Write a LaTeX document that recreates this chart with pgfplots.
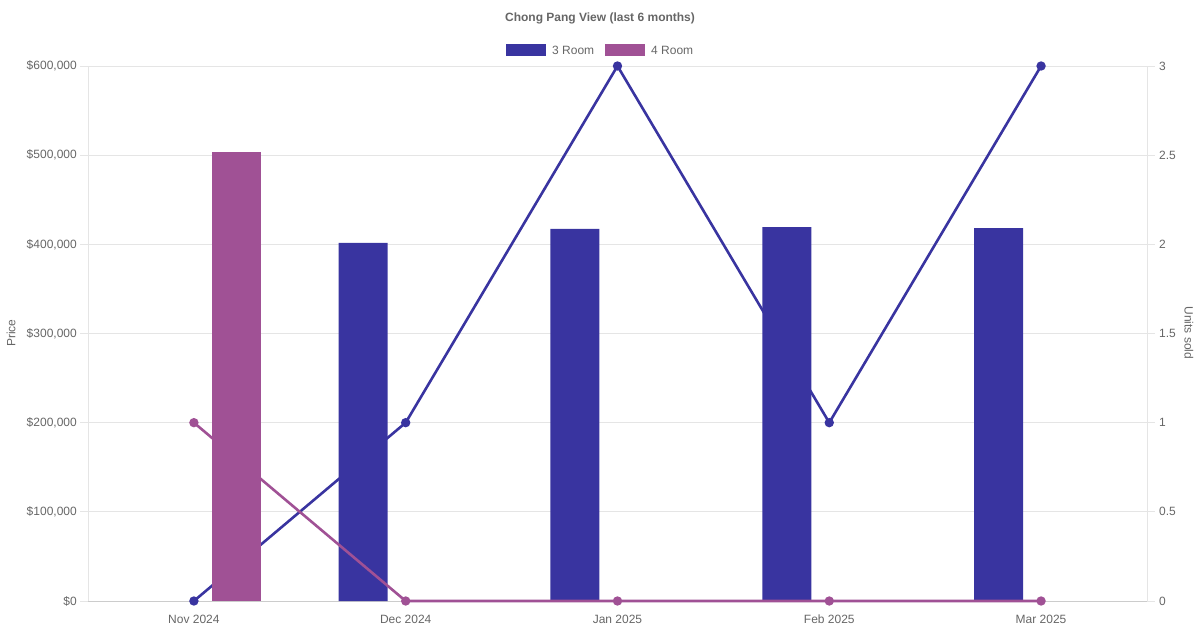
\documentclass[border=0pt]{standalone}
\usepackage{fontspec}
\setmainfont{Liberation Sans}
\usepackage{pgfplots}
\pgfplotsset{compat=1.18}
\definecolor{room3}{RGB}{57,52,160}
\definecolor{room4}{RGB}{160,81,149}
\definecolor{txt}{RGB}{102,102,102}
\definecolor{gridc}{RGB}{229,229,229}
\definecolor{basec}{RGB}{204,204,204}
\begin{document}
\fontsize{12}{14}\selectfont
\begin{tikzpicture}[x=1pt,y=1pt]
\path[use as bounding box] (0,0) rectangle (1200,630);
\pgfplotsset{
  base/.style={
    at={(88pt,29pt)}, anchor=south west, scale only axis,
    width=1059pt, height=535pt,
    xmin=-0.5, xmax=4.5,
    clip=false,
    font=\fontsize{12}{14}\selectfont,
    ticklabel style={text=txt},
    scaled y ticks=false,
  }
}
% Axis A: grid, frame, right ticks, 3 Room line (behind bars)
\begin{axis}[base,
  ymin=0, ymax=3,
  ytick={0,0.5,1,1.5,2,2.5,3},
  yticklabels={0,0.5,1,1.5,2,2.5,3},
  yticklabel pos=right,
  yticklabel style={anchor=west, xshift=0pt},
  ymajorgrids, major grid style={gridc, line width=0.8pt},
  axis line style={gridc, line width=0.8pt},
  ytick style={gridc, line width=0.8pt},
  tick align=outside, major tick length=8pt,
  xtick={0,1,2,3,4},
  xticklabels={Nov 2024,Dec 2024,Jan 2025,Feb 2025,Mar 2025},
  x tick style={draw=none},
  xticklabel style={yshift=-2pt},
]
\draw[basec, line width=0.8pt] (rel axis cs:0,0) -- (rel axis cs:1,0);
\addplot[room3, line width=2.6pt, mark=*, mark size=3.3pt] coordinates {
  (0,0) (1,1) (2,3) (3,1) (4,3)
};
\end{axis}
% Axis B: price axis with bars
\begin{axis}[base,
  ymin=0, ymax=600000,
  ytick={0,100000,200000,300000,400000,500000,600000},
  yticklabels={\$0,\$100{,}000,\$200{,}000,\$300{,}000,\$400{,}000,\$500{,}000,\$600{,}000},
  yticklabel pos=left,
  yticklabel style={xshift=-7pt},
  axis line style={draw=none},
  tick style={draw=none},
  xtick=\empty,
  ybar, bar width=49pt,
]
\addplot[fill=room3, draw=none, bar shift=-42.5pt] coordinates {
  (1,401500) (2,417200) (3,419400) (4,418300)
};
\addplot[fill=room4, draw=none, bar shift=42.5pt] coordinates {
  (0,503600)
};
\end{axis}
% Axis C: 4 Room line (on top)
\begin{axis}[base,
  ymin=0, ymax=3,
  hide axis,
]
\addplot[room4, line width=2.6pt, mark=*, mark size=3.3pt] coordinates {
  (0,1) (1,0) (2,0) (3,0) (4,0)
};
\end{axis}
% Title, axis titles, legend
\node[text=txt, font=\fontsize{12}{14}\selectfont\bfseries] at (600,612) {Chong Pang View (last 6 months)};
\node[text=txt, rotate=90] at (11,297) {Price};
\node[text=txt, rotate=-90] at (1189,297) {Units sold};
\fill[room3] (506,574) rectangle (546,586);
\node[text=txt, anchor=west, inner sep=0pt] at (552,580) {3 Room};
\fill[room4] (605,574) rectangle (645,586);
\node[text=txt, anchor=west, inner sep=0pt] at (651,580) {4 Room};
\end{tikzpicture}
\end{document}
